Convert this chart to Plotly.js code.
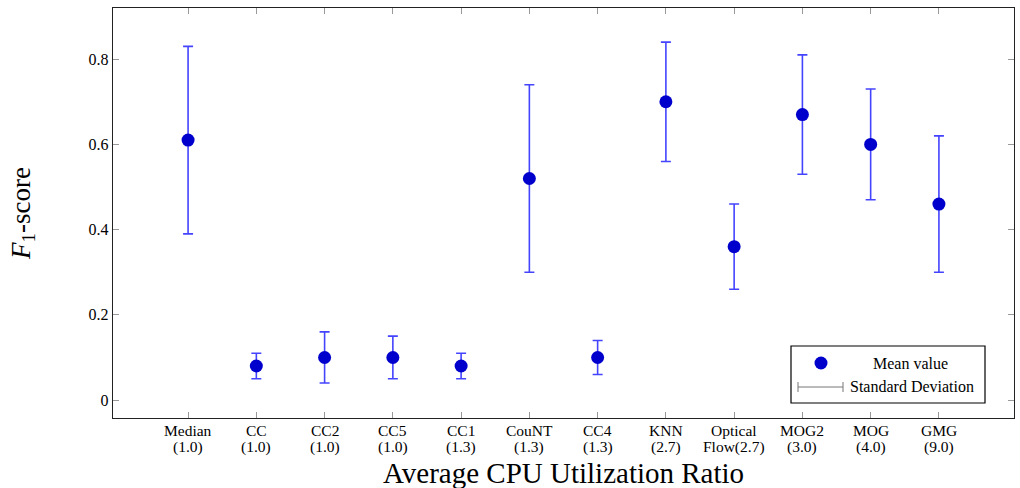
<!DOCTYPE html>
<html>
<head>
<meta charset="utf-8">
<script src="https://cdn.plot.ly/plotly-3.0.1.min.js"></script>
<style>html,body{margin:0;padding:0;background:#fff;}#chart{width:1020px;height:488px;}</style>
</head>
<body>
<div id="chart"></div>
<script>
// Data
const methods = ['Median', 'CC', 'CC2', 'CC5', 'CC1', 'CouNT', 'CC4', 'KNN', 'Optical Flow', 'MOG2', 'MOG', 'GMG'];
const tickTop = ['Median', 'CC', 'CC2', 'CC5', 'CC1', 'CouNT', 'CC4', 'KNN', 'Optical', 'MOG2', 'MOG', 'GMG'];
const tickBottom = ['(1.0)', '(1.0)', '(1.0)', '(1.0)', '(1.3)', '(1.3)', '(1.3)', '(2.7)', 'Flow(2.7)', '(3.0)', '(4.0)', '(9.0)'];
const meanF1 = [0.61, 0.08, 0.10, 0.10, 0.08, 0.52, 0.10, 0.70, 0.36, 0.67, 0.60, 0.46];
const stdF1  = [0.22, 0.03, 0.06, 0.05, 0.03, 0.22, 0.04, 0.14, 0.10, 0.14, 0.13, 0.16];
const yTicks = [0, 0.2, 0.4, 0.6, 0.8];
const yTickText = ['0', '0.2', '0.4', '0.6', '0.8'];

const xIdx = methods.map((m, i) => i);
const FONT = 'Liberation Serif, Times New Roman, serif';

const trace = {
  x: xIdx,
  y: meanF1,
  type: 'scatter',
  mode: 'markers',
  name: 'Mean value',
  text: methods,
  marker: { color: '#0000cc', size: 13 },
  error_y: { type: 'data', array: stdF1, visible: true, color: '#4444ff', thickness: 1.6, width: 5 },
  showlegend: false
};

// paper-coordinate helpers
const L = 113, R = 1014, T = 8, B = 418;
const px = v => (v - L) / (R - L);
const py = v => (B - v) / (B - T);

const tickAnnotations = [];
xIdx.forEach(i => {
  tickAnnotations.push({ xref: 'x', yref: 'paper', x: i, y: py(430), text: tickTop[i], showarrow: false,
    xanchor: 'center', yanchor: 'middle', font: { family: FONT, size: 15.5 } });
  tickAnnotations.push({ xref: 'x', yref: 'paper', x: i, y: py(447), text: tickBottom[i], showarrow: false,
    xanchor: 'center', yanchor: 'middle', font: { family: FONT, size: 15.5 } });
});

const layout = {
  width: 1020, height: 488,
  margin: { l: L, r: 1020 - R, t: T, b: 488 - B },
  paper_bgcolor: '#fff', plot_bgcolor: '#fff',
  font: { family: FONT, size: 16, color: '#000' },
  showlegend: false,
  xaxis: {
    range: [-1.1, 12.1],
    tickmode: 'array', tickvals: xIdx, showticklabels: false,
    ticks: 'inside', ticklen: 6, tickcolor: '#999', tickwidth: 1,
    showline: true, linecolor: '#222', linewidth: 1.3, mirror: 'ticks',
    showgrid: false, zeroline: false
  },
  yaxis: {
    range: [-0.042, 0.92],
    tickmode: 'array', tickvals: yTicks, ticktext: yTickText,
    ticks: 'inside', ticklen: 6, tickcolor: '#999', tickwidth: 1,
    showline: true, linecolor: '#222', linewidth: 1.3, mirror: 'ticks',
    showgrid: false, zeroline: false,
    tickfont: { family: FONT, size: 16 },
    title: { text: '<i>F</i><sub>1</sub>-score', font: { family: FONT, size: 27 }, standoff: 50 }
  },
  shapes: [
    { type: 'rect', xref: 'paper', yref: 'paper', x0: px(791), x1: px(985), y0: py(403), y1: py(346),
      line: { color: '#000', width: 1.2 }, fillcolor: '#fff', layer: 'above' },
    { type: 'circle', xref: 'paper', yref: 'paper', xsizemode: 'pixel', ysizemode: 'pixel',
      xanchor: px(821), yanchor: py(363), x0: -6.5, x1: 6.5, y0: -6.5, y1: 6.5,
      fillcolor: '#0000cc', line: { width: 0 }, layer: 'above' },
    { type: 'line', xref: 'paper', yref: 'paper', x0: px(798), x1: px(843), y0: py(387), y1: py(387),
      line: { color: '#777', width: 1 }, layer: 'above' },
    { type: 'line', xref: 'paper', yref: 'paper', xsizemode: 'pixel', ysizemode: 'pixel', xanchor: px(798), yanchor: py(387),
      x0: 0, x1: 0, y0: -5, y1: 5, line: { color: '#777', width: 1 }, layer: 'above' },
    { type: 'line', xref: 'paper', yref: 'paper', xsizemode: 'pixel', ysizemode: 'pixel', xanchor: px(843), yanchor: py(387),
      x0: 0, x1: 0, y0: -5, y1: 5, line: { color: '#777', width: 1 }, layer: 'above' }
  ],
  annotations: tickAnnotations.concat([
    { xref: 'paper', yref: 'paper', x: px(910), y: py(363), text: 'Mean value', showarrow: false,
      xanchor: 'center', yanchor: 'middle', font: { family: FONT, size: 16 } },
    { xref: 'paper', yref: 'paper', x: px(912), y: py(386), text: 'Standard Deviation', showarrow: false,
      xanchor: 'center', yanchor: 'middle', font: { family: FONT, size: 16 } },
    { xref: 'paper', yref: 'paper', x: 0.5, y: py(473), text: 'Average CPU Utilization Ratio', showarrow: false,
      xanchor: 'center', yanchor: 'middle', font: { family: FONT, size: 29 } }
  ])
};

Plotly.newPlot('chart', [trace], layout, { displayModeBar: false, staticPlot: true });
</script>
</body>
</html>
